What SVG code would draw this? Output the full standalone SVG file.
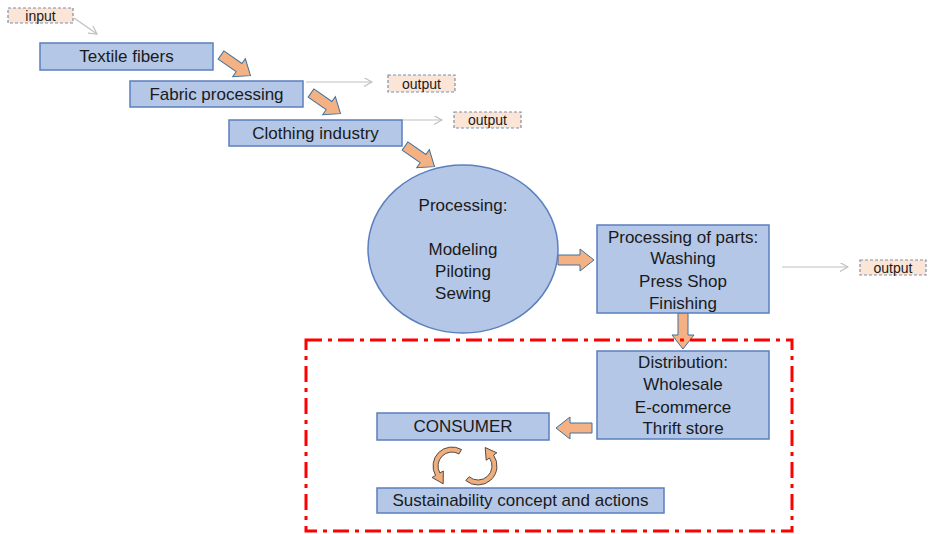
<svg xmlns="http://www.w3.org/2000/svg" width="928" height="534" viewBox="0 0 928 534">
<style>
.box{fill:#b4c7e7;stroke:#5b7fbf;stroke-width:1.5}
.out{fill:#fbe5d6;stroke:#7f8fa9;stroke-width:1.2;stroke-dasharray:3 2}
.t{font-family:"Liberation Sans",Arial,sans-serif;font-size:17px;fill:#1a1a1a;text-anchor:middle;dominant-baseline:central}
.ts{font-family:"Liberation Sans",Arial,sans-serif;font-size:14px;fill:#1a1a1a;text-anchor:middle;dominant-baseline:central}
.thin{stroke:#bfbfbf;stroke-width:1.2;fill:none;marker-end:url(#open)}
.blk{fill:#f4b183;stroke:#41719c;stroke-width:1}
.cyc{fill:#f0ae7c;stroke:#3d3d3d;stroke-width:0.9}
</style>
<defs>
<marker id="open" viewBox="0 0 10 10" refX="9" refY="5" markerWidth="9" markerHeight="9" markerUnits="userSpaceOnUse" orient="auto">
<path d="M0,0 L9,5 L0,10" fill="none" stroke="#bfbfbf" stroke-width="1.3"/>
</marker>
<path id="barrow" d="M0,-5 L22,-5 L22,-11 L36,0 L22,11 L22,5 L0,5 Z"/>
</defs>
<rect width="928" height="534" fill="#ffffff"/>

<g id="connectors">
<line class="thin" x1="74" y1="18" x2="97" y2="34"/>
<line class="thin" x1="306" y1="82" x2="372" y2="82"/>
<line class="thin" x1="402" y1="120" x2="442" y2="120"/>
<line class="thin" x1="782" y1="267" x2="848" y2="267"/>
<use href="#barrow" class="blk" transform="translate(221,55) rotate(35)"/>
<use href="#barrow" class="blk" transform="translate(311,93) rotate(35)"/>
<use href="#barrow" class="blk" transform="translate(405,146) rotate(35)"/>
<use href="#barrow" class="blk" transform="translate(558,260)"/>
<use href="#barrow" class="blk" transform="translate(683,313) rotate(90)"/>
<use href="#barrow" class="blk" transform="translate(592,428) rotate(180)"/>
<path class="cyc" d="M461.5,449.55 A19,19 0 0,0 435.55,475.5 L432.08,477.5 L443.2,483.8 L443.34,471 L439.88,473 A14,14 0 0,1 459,453.9 Z"/>
<path class="cyc" d="M465.79,480.55 A19,19 0 0,0 493.56,455.1 L496.84,452.81 L485.2,447.5 L486.19,460.26 L489.47,457.97 A14,14 0 0,1 469,476.72 Z"/>
</g>

<g id="boundary">
<rect x="306" y="340" width="486" height="191" fill="none" stroke="#ff0000" stroke-width="3" stroke-dasharray="16 6 4 6"/>
</g>

<g id="input"><rect class="out" x="8" y="8" width="65" height="15"/><text class="ts" x="40.5" y="15.5">input</text></g>
<g id="output1"><rect class="out" x="388" y="75" width="67" height="17"/><text class="ts" x="421.5" y="83.5">output</text></g>
<g id="output2"><rect class="out" x="454" y="112" width="67" height="16"/><text class="ts" x="487.5" y="120">output</text></g>
<g id="output3"><rect class="out" x="860" y="260" width="66" height="15"/><text class="ts" x="893" y="267.5">output</text></g>

<g id="textile"><rect class="box" x="40" y="43" width="173" height="27"/><text class="t" x="126.5" y="56.5">Textile fibers</text></g>
<g id="fabric"><rect class="box" x="130" y="81" width="173" height="26"/><text class="t" x="216.5" y="94">Fabric processing</text></g>
<g id="clothing"><rect class="box" x="229" y="120" width="173" height="26"/><text class="t" x="315.5" y="133">Clothing industry</text></g>

<g id="processing">
<ellipse class="box" cx="463" cy="249" rx="95" ry="84"/>
<text class="t" x="463" y="205">Processing:</text>
<text class="t" x="463" y="249">Modeling</text>
<text class="t" x="463" y="271">Piloting</text>
<text class="t" x="463" y="293">Sewing</text>
</g>

<g id="parts">
<rect class="box" x="597" y="225" width="172" height="88"/>
<text class="t" x="683" y="237">Processing of parts:</text>
<text class="t" x="683" y="258">Washing</text>
<text class="t" x="683" y="281">Press Shop</text>
<text class="t" x="683" y="303">Finishing</text>
</g>

<g id="distribution">
<rect class="box" x="597" y="351" width="172" height="88"/>
<text class="t" x="683" y="362">Distribution:</text>
<text class="t" x="683" y="384">Wholesale</text>
<text class="t" x="683" y="407">E-commerce</text>
<text class="t" x="683" y="428">Thrift store</text>
</g>

<g id="consumer"><rect class="box" x="377" y="413" width="172" height="27"/><text class="t" x="463" y="426.5">CONSUMER</text></g>
<g id="sustainability"><rect class="box" x="377" y="488" width="287" height="25"/><text class="t" x="520.5" y="500.5">Sustainability concept and actions</text></g>
</svg>
